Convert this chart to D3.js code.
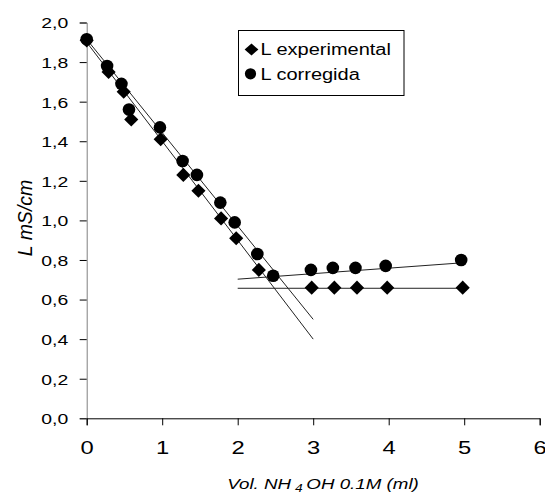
<!DOCTYPE html>
<html lang="es">
<head>
  <meta charset="UTF-8">
  <title>Conductividad</title>
  <script src="https://cdn.jsdelivr.net/npm/d3@7"></script>
  <style>
    body { margin: 0; background: #fff; }
    text { font-family: "Liberation Sans", Arial, sans-serif; fill: #000; }
  </style>
</head>
<body>
  <svg width="545" height="495"></svg>
  <script>
    // L experimental (diamonds)
    var expX = [0, 0.29, 0.49, 0.59, 0.98, 1.28, 1.48, 1.78, 1.98, 2.28, 2.98, 3.28, 3.58, 3.98, 4.98];
    var expY = [1.91, 1.75, 1.65, 1.51, 1.41, 1.23, 1.15, 1.01, 0.91, 0.75, 0.66, 0.66, 0.66, 0.66, 0.66];
    // L corregida (circles)
    var corX = [0, 0.27, 0.46, 0.56, 0.97, 1.27, 1.46, 1.77, 1.96, 2.26, 2.47, 2.97, 3.26, 3.56, 3.96, 4.96];
    var corY = [1.915, 1.78, 1.69, 1.56, 1.47, 1.30, 1.23, 1.09, 0.99, 0.83, 0.72, 0.75, 0.76, 0.76, 0.77, 0.80];
    // fitted lines [x1, y1, x2, y2]
    var expFits = [[0, 1.90, 3, 0.40], [2, 0.657, 5, 0.657]];
    var corFits = [[0, 1.915, 3, 0.50], [2, 0.703, 4.95, 0.785]];

    var xTicks = [0, 1, 2, 3, 4, 5, 6];
    var yTicks = [0, 0.2, 0.4, 0.6, 0.8, 1.0, 1.2, 1.4, 1.6, 1.8, 2.0];
    var legendNames = ['L experimental', 'L corregida'];

    var sx = 1.25; // text looks horizontally stretched
    var svg = d3.select('svg');
    var margin = {top: 22.5, left: 86.7};
    var width = 453, height = 395.8;

    var chart = svg.append('g')
      .attr('transform', 'translate(' + margin.left + ',' + margin.top + ')');

    var x = d3.scaleLinear().domain([0, 6]).range([0, width]);
    var y = d3.scaleLinear().domain([0, 2]).range([height, 0]);

    // y axis
    var yAxis = chart.append('g')
      .call(d3.axisLeft(y).tickValues(yTicks).tickSize(7)
        .tickFormat(function(d) { return d.toFixed(1).replace('.', ','); }));
    yAxis.select('.domain').attr('stroke', '#808080');
    yAxis.selectAll('.tick line').attr('stroke', '#000');
    yAxis.selectAll('text')
      .attr('x', null).attr('dy', '0.35em')
      .style('font-size', '15.5px')
      .attr('transform', 'translate(-18.5,0) scale(' + sx + ',1)');

    // x axis
    var xAxis = chart.append('g')
      .attr('transform', 'translate(0,' + height + ')')
      .call(d3.axisBottom(x).tickValues(xTicks).tickSize(7).tickFormat(d3.format('d')));
    xAxis.select('.domain').attr('stroke', '#000');
    xAxis.selectAll('.tick line').attr('stroke', '#000');
    xAxis.selectAll('text')
      .attr('y', null).attr('dy', null)
      .style('font-size', '19px')
      .attr('transform', 'translate(0,35.5) scale(' + sx + ',1)');

    // fitted lines
    chart.selectAll('.fit')
      .data(expFits.concat(corFits))
      .enter().append('line')
      .attr('class', 'fit')
      .attr('x1', function(d) { return x(d[0]); })
      .attr('y1', function(d) { return y(d[1]); })
      .attr('x2', function(d) { return x(d[2]); })
      .attr('y2', function(d) { return y(d[3]); })
      .attr('stroke', '#222')
      .attr('stroke-width', 1);

    var diamond = d3.symbol().type(d3.symbolSquare).size(100);
    var expData = expX.map(function(v, i) { return [v, expY[i]]; });
    var corData = corX.map(function(v, i) { return [v, corY[i]]; });

    chart.selectAll('.exp')
      .data(expData)
      .enter().append('path')
      .attr('class', 'exp')
      .attr('d', diamond)
      .attr('transform', function(d) {
        return 'translate(' + x(d[0]) + ',' + y(d[1]) + ') rotate(45)';
      })
      .attr('fill', '#000');

    chart.selectAll('.cor')
      .data(corData)
      .enter().append('circle')
      .attr('class', 'cor')
      .attr('cx', function(d) { return x(d[0]); })
      .attr('cy', function(d) { return y(d[1]); })
      .attr('r', 6.3)
      .attr('fill', '#000');

    // legend
    var legend = svg.append('g');
    legend.append('rect')
      .attr('x', 238.5).attr('y', 30.5)
      .attr('width', 165.5).attr('height', 65)
      .attr('fill', '#fff').attr('stroke', '#000');
    legend.append('path')
      .attr('d', d3.symbol().type(d3.symbolSquare).size(72))
      .attr('transform', 'translate(251.5,49.5) scale(1.15,1) rotate(45)');
    legend.append('circle')
      .attr('cx', 250.5).attr('cy', 73.8).attr('r', 5.6);
    legend.selectAll('.lt')
      .data(legendNames)
      .enter().append('text')
      .attr('class', 'lt')
      .attr('transform', function(d, i) {
        return 'translate(260.5,' + (55.3 + i * 24.5) + ') scale(' + sx + ',1)';
      })
      .style('font-size', '16px')
      .text(function(d) { return d; });

    // axis titles
    var xt = svg.append('text')
      .attr('transform', 'translate(323,489) scale(' + sx + ',1)')
      .attr('text-anchor', 'middle')
      .style('font-size', '15px')
      .style('font-style', 'italic');
    xt.append('tspan').text('Vol. NH');
    xt.append('tspan').attr('dy', 3).style('font-size', '11px').text(' 4 ');
    xt.append('tspan').attr('dy', -3).text('OH 0.1M (ml)');

    svg.append('text')
      .attr('transform', 'translate(32,218) rotate(-90)')
      .attr('text-anchor', 'middle')
      .style('font-size', '19.5px')
      .style('font-style', 'italic')
      .text('L mS/cm');
  </script>
</body>
</html>
